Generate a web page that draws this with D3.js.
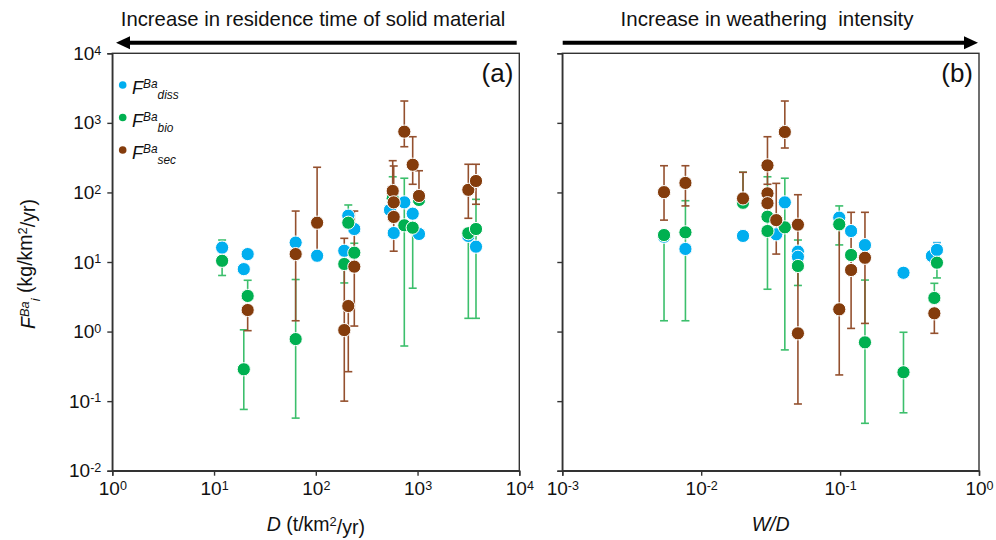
<!DOCTYPE html>
<html>
<head>
<meta charset="utf-8">
<script src="https://cdn.jsdelivr.net/npm/d3@7"></script>
<style>
  body { margin: 0; background: #fff; }
  svg { display: block; font-family: "Liberation Sans", Arial, Helvetica, sans-serif; }
</style>
</head>
<body>
<svg id="chart" width="996" height="540"></svg>
<script>
// [x, flux, lower, upper]  (null = no whisker on that side)
const dissA = [[12,16.1],[19.6,7.9],[21.4,13.0],[63.4,19.0],[103,12.3],[190.5,14.5],[208.6,46.3],[239,29.8],
  [536,56],[583,26.1],[741,72],[896,49.5],[1033,25.3],[3155,23.7],[3753,16.6]];
const bioA = [[12,10.4,6.4,20.7],[19.6,0.287,0.076,1.06],[21.4,3.25,null,5.46],[63.4,0.78,0.057,5.6],
  [190.5,9.36,5.0,null],[208.6,36.7,null,66],[239,13.6,null,18.6],[570,82,null,168],[741,33.7,0.62,160],
  [896,31.1,4.2,null],[1033,78,null,null],[3155,25.9,1.55,null],[3753,29.8,1.55,79.6]];
const secA = [[21.4,2.04,1.03,null],[63.4,13.0,1.43,54],[103,36.7,12,230],[190.5,1.05,0.10,21.9],
  [208.6,2.33,0.265,null],[239,8.57,1.2,54],[570,105,null,286],[583,72,null,240],[583,44.4,14.3,null],
  [741,747,454,2061],[896,250,131,632],[1033,89,null,205],[3155,109,42.5,254],[3753,146,67.6,254]];

const dissB = [[0.0054,23.1],[0.0077,15.4],[0.020,23.7],[0.0347,25],[0.040,72],[0.0497,14.1],[0.0497,11.9],
  [0.0986,43.4],[0.120,27.9],[0.151,17.5],[0.286,7.0],[0.458,12.2],[0.498,14.9,null,19]];
const bioB = [[0.0054,24.4,1.43,null],[0.0077,26.7,1.43,76],[0.020,71,null,195],[0.030,44.8,null,null],
  [0.030,27.9,4.06,168],[0.040,31.5,0.545,160],[0.0497,8.77,4.6,20.7],[0.0986,34.8,17.6,64],
  [0.120,12.6,null,null],[0.151,0.70,0.048,5.5],[0.286,0.26,0.068,0.977],[0.477,3.04,null,4.94],
  [0.498,9.77,5.9,null]];
const secB = [[0.0054,101,40,242],[0.0077,137,64,242],[0.020,82,null,195],[0.030,245,131,632],
  [0.030,97,null,null],[0.030,70,null,null],[0.0347,40,13,135],[0.040,740,435,2061],[0.0497,34.4,null,92.7],
  [0.0497,0.944,0.091,30],[0.0986,2.09,0.238,30],[0.120,7.67,1.11,51.8],[0.151,11.5,1.31,51.8],
  [0.477,1.83,0.944,null]];

const yTicks = [1e-2, 1e-1, 1, 10, 100, 1000, 10000];
const xTicksA = [1, 10, 100, 1000, 10000];
const xTicksB = [1e-3, 1e-2, 1e-1, 1];

const colors = { diss: "#00aeef", bio: "#00b050", sec: "#843c0c" };
const barColors = { diss: "#3bb8ea", bio: "#3cbf6c", sec: "#94502e" };

const svg = d3.select("#chart");
const plotTop = 53.3, plotBottom = 470.7;

const y = d3.scaleLog().domain([1e-2, 1e4]).range([plotBottom, plotTop]);

// exponent labels like 10^-2
function expLabel(sel) {
  sel.each(function (d) {
    const t = d3.select(this);
    const e = Math.round(Math.log10(d));
    t.text("10");
    t.append("tspan").attr("dy", "-0.42em").attr("font-size", "0.66em").text(String(e));
  });
}

function drawPanel(x, series, tag, showYLabels, xLabel) {
  const g = svg.append("g");
  const [x0, x1] = x.range();

  // frame
  g.append("rect").attr("x", x0).attr("y", plotTop).attr("width", x1 - x0).attr("height", plotBottom - plotTop)
    .attr("fill", "none").attr("stroke", "#333").attr("stroke-width", 1.4);

  const xa = g.append("g").attr("transform", `translate(0,${plotBottom})`)
    .call(d3.axisBottom(x).tickValues(series.xTicks).tickSize(5).tickPadding(6).tickFormat(""));
  xa.select(".domain").attr("stroke", "#333").attr("stroke-width", 1.4);
  xa.selectAll(".tick line").attr("stroke", "#333").attr("stroke-width", 1.4);
  xa.selectAll(".tick text").attr("font-size", 19).attr("fill", "#111").call(expLabel);

  const ya = g.append("g").attr("transform", `translate(${x0},0)`)
    .call(d3.axisLeft(y).tickValues(yTicks).tickSize(5).tickPadding(6).tickFormat(""));
  ya.select(".domain").attr("stroke", "#333").attr("stroke-width", 1.4);
  ya.selectAll(".tick line").attr("stroke", "#333").attr("stroke-width", 1.4);
  if (showYLabels) {
    ya.selectAll(".tick text").attr("font-size", 19).attr("fill", "#111").call(expLabel);
  } else {
    ya.selectAll(".tick text").remove();
  }

  // error bars first
  const order = ["diss", "bio", "sec"];
  order.forEach((k) => {
    const eg = g.append("g").attr("stroke", barColors[k]).attr("stroke-width", 1.6);
    series[k].filter((d) => d[2] != null || d[3] != null).forEach((d) => {
      const cx = x(d[0]);
      const lo = d[2] != null ? d[2] : d[1];
      const hi = d[3] != null ? d[3] : d[1];
      eg.append("line").attr("x1", cx).attr("x2", cx).attr("y1", y(lo)).attr("y2", y(hi));
      if (d[2] != null) eg.append("line").attr("x1", cx - 4).attr("x2", cx + 4).attr("y1", y(lo)).attr("y2", y(lo));
      if (d[3] != null) eg.append("line").attr("x1", cx - 4).attr("x2", cx + 4).attr("y1", y(hi)).attr("y2", y(hi));
    });
  });

  // points
  order.forEach((k) => {
    g.append("g").selectAll("circle").data(series[k]).enter().append("circle")
      .attr("cx", (d) => x(d[0])).attr("cy", (d) => y(d[1])).attr("r", 6.6)
      .attr("fill", colors[k]).attr("stroke", "#fff").attr("stroke-width", 1);
  });

  g.append("text").attr("x", x1 - 6).attr("y", 82).attr("text-anchor", "end")
    .attr("font-size", 26).attr("fill", "#111").text(tag);

  const xl = g.append("text").attr("x", (x0 + x1) / 2).attr("y", 531).attr("text-anchor", "middle")
    .attr("font-size", 19.5).attr("fill", "#111");
  xLabel(xl);
}

const xA = d3.scaleLog().domain([1, 1e4]).range([112.3, 519.3]);
const xB = d3.scaleLog().domain([1e-3, 1]).range([562.3, 979]);

drawPanel(xA, { diss: dissA, bio: bioA, sec: secA, xTicks: xTicksA }, "(a)", true, (t) => {
  t.append("tspan").attr("font-style", "italic").text("D");
  t.append("tspan").text(" (t/km");
  t.append("tspan").attr("dy", "-0.42em").attr("font-size", "0.66em").text("2");
  t.append("tspan").attr("dy", "0.42em").text("/yr)");
});
drawPanel(xB, { diss: dissB, bio: bioB, sec: secB, xTicks: xTicksB }, "(b)", false, (t) => {
  t.append("tspan").attr("font-style", "italic").text("W/D");
});

// y title
const yt = svg.append("text").attr("transform", "translate(35,264) rotate(-90)")
  .attr("text-anchor", "middle").attr("font-size", 19.5).attr("fill", "#111");
yt.append("tspan").attr("font-style", "italic").text("F");
yt.append("tspan").attr("font-style", "italic").attr("dy", "-0.45em").attr("font-size", "0.66em").text("Ba");
yt.append("tspan").attr("font-style", "italic").attr("dy", "0.85em").attr("font-size", "0.66em").text("i");
yt.append("tspan").attr("dy", "-0.4em").text(" (kg/km");
yt.append("tspan").attr("dy", "-0.42em").attr("font-size", "0.66em").text("2");
yt.append("tspan").attr("dy", "0.42em").text("/yr)");

// legend
const legend = [["diss", "diss"], ["bio", "bio"], ["sec", "sec"]];
legend.forEach(([k, sub], i) => {
  const ly = 85 + i * 32.5;
  svg.append("circle").attr("cx", 122.7).attr("cy", ly).attr("r", 3.8).attr("fill", colors[k]);
  const t = svg.append("text").attr("x", 132).attr("y", ly + 9).attr("font-size", 18)
    .attr("font-style", "italic").attr("fill", "#111");
  t.append("tspan").text("F");
  t.append("tspan").attr("dy", "-0.5em").attr("font-size", "0.66em").text("Ba");
  t.append("tspan").attr("dy", "0.95em").attr("font-size", "0.66em").text(sub);
});

// arrows and headers
const arrowY = 42.7;
function arrow(xFrom, xTo) {
  const dir = Math.sign(xTo - xFrom);
  svg.append("line").attr("x1", xFrom).attr("x2", xTo - dir * 10).attr("y1", arrowY).attr("y2", arrowY)
    .attr("stroke", "#000").attr("stroke-width", 4);
  svg.append("path")
    .attr("d", `M${xTo},${arrowY} L${xTo - dir * 14},${arrowY - 6.5} L${xTo - dir * 14},${arrowY + 6.5} Z`)
    .attr("fill", "#000");
}
arrow(516.7, 116);
arrow(562.7, 978);

svg.append("text").attr("x", 313).attr("y", 26).attr("text-anchor", "middle").attr("font-size", 20.3)
  .attr("fill", "#111").text("Increase in residence time of solid material");
svg.append("text").attr("x", 767).attr("y", 26).attr("text-anchor", "middle").attr("font-size", 20.5)
  .attr("fill", "#111").style("white-space", "pre")
  .text("Increase in weathering  intensity");
</script>
</body>
</html>
